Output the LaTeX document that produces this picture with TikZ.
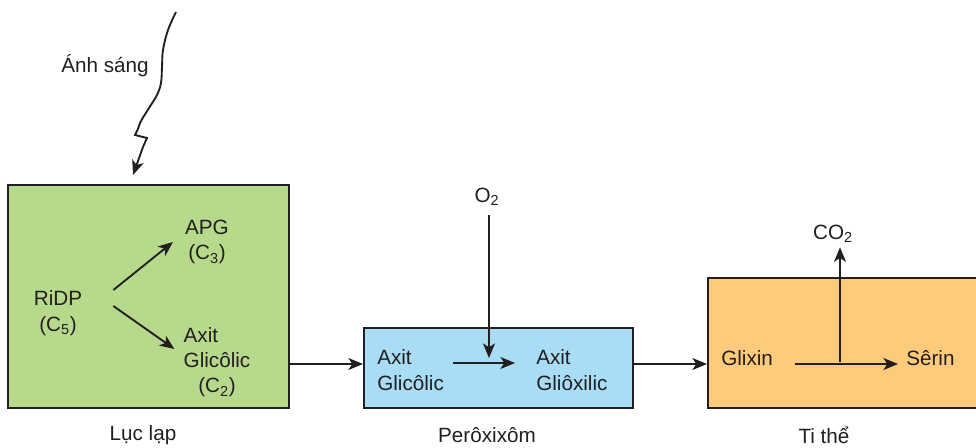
\documentclass[tikz,border=0pt]{standalone}
\usepackage{fontspec}
\setmainfont{Liberation Sans}
\usetikzlibrary{arrows.meta}
\definecolor{lucgreen}{HTML}{B7D98B}
\definecolor{peroblue}{HTML}{A9DDF6}
\definecolor{tiorange}{HTML}{FECB7C}
\definecolor{inkline}{HTML}{231F20}

\begin{document}
\begin{tikzpicture}[x=0.75pt, y=-0.75pt,
  every node/.style={font=\fontsize{15.5}{19}\selectfont, text=inkline, inner sep=0pt},
  organelle/.style={draw=inkline, line width=1.5pt},
  flow/.style={draw=inkline, line width=1.4pt, -{Stealth[length=11pt, width=9pt, inset=3pt]}}]
\useasboundingbox (0,0) rectangle (976,447);
\clip (0,0) rectangle (976,447);

% Draw the three organelles
\node (luc) at (148.5,296.5) [organelle, fill=lucgreen, minimum width=210.75pt, minimum height=167.25pt]{};
\node (pero) at (498.5,368) [organelle, fill=peroblue, minimum width=201.75pt, minimum height=60pt]{};
\node (ti) at (849,343) [organelle, fill=tiorange, minimum width=211.5pt, minimum height=97.5pt]{};

% Draw the light input
\node (light) at (105,66){Ánh sáng};
\draw[flow] plot[smooth, tension=0.6] coordinates {(176,12) (168,30) (163,50) (162,67) (161,83) (157,95) (149,108) (141,121) (138,129)}
  -- (135,135) -- (147,138) -- (143,147) -- (133,175);

% Inside the chloroplast
\node (ridp) at (58,313) [align=center]{RiDP\\(C\textsubscript{5})};
\node (apg) at (207,242) [align=center]{APG\\(C\textsubscript{3})};
\node (glic) at (217,362) [align=center]{\rlap{Axit}\phantom{Glicôlic}\\Glicôlic\\(C\textsubscript{2})};
\draw[flow] ([shift={(31,-23)}]ridp.east) -- ([xshift=-9]apg.west);
\draw[flow] ([shift={(31,-7)}]ridp.east) -- ([shift={(-9,-13)}]glic.west);

% Inside the peroxisome
\node (glicA) at (377,370) [anchor=west, align=left]{Axit\\Glicôlic};
\node (glio) at (536,370) [anchor=west, align=left]{Axit\\Gliôxilic};
\node (oxy) at (487,197){O\textsubscript{2}};
\draw[flow] ([shift={(9,-7)}]glicA.east) -- ([shift={(-21,-7)}]glio.west);
\coordinate (oxyin) at (489,358);
\draw[flow] ([shift={(2,9)}]oxy.south) -- (oxyin);

% Inside the mitochondrion
\node (glixin) at (721,358) [anchor=west]{Glixin};
\node (serin) at (906,358) [anchor=west]{Sêrin};
\node (co2) at (833,234){CO\textsubscript{2}};
\draw[flow] ([shift={(22,6)}]glixin.east) -- ([shift={(-8,6)}]serin.west);
\coordinate (branch) at (840,362);
\draw[flow, shorten >=3pt] (branch) -- (branch |- co2.south);

% Transport between organelles
\coordinate (transfer) at (0,364);
\draw[flow] (luc.east |- transfer) -- (pero.west |- transfer);
\draw[flow] (pero.east |- transfer) -- (ti.west |- transfer);

% Organelle names
\node (luclab) at (143,435){Lục lạp};
\node (perolab) at (487,435){Perôxixôm};
\node (tilab) at (824,435){Ti thể};
\end{tikzpicture}
\end{document}
